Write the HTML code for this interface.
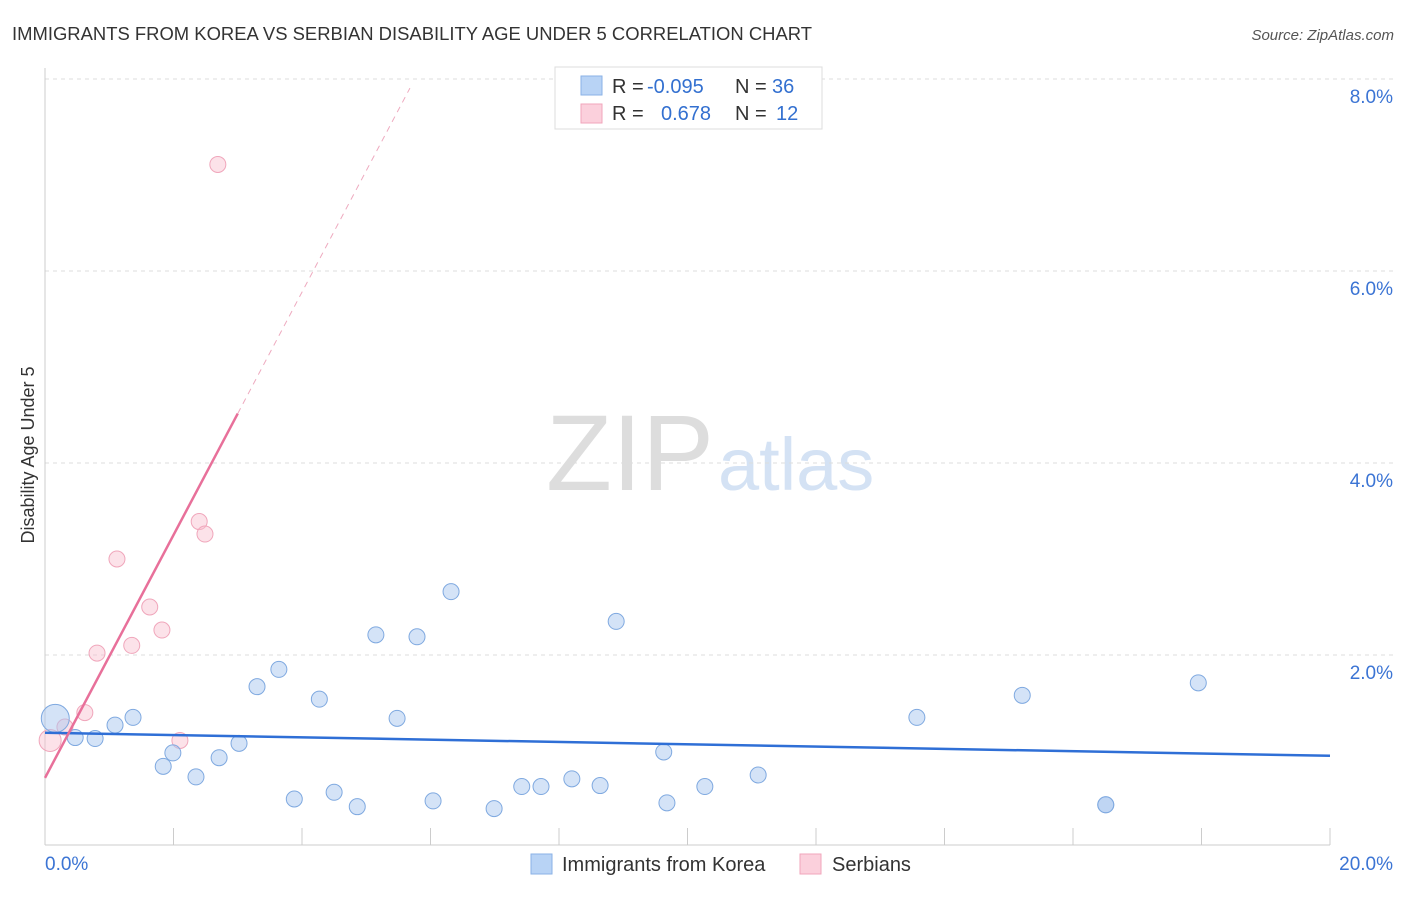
<!DOCTYPE html>
<html><head><meta charset="utf-8"><style>
body{margin:0;background:#fff;font-family:"Liberation Sans",sans-serif;}
svg text{font-family:"Liberation Sans",sans-serif;}
</style></head><body>
<svg id="c" width="1406" height="892" xmlns="http://www.w3.org/2000/svg">
<text x="12" y="40" font-size="18" fill="#333" textLength="800" lengthAdjust="spacingAndGlyphs">IMMIGRANTS FROM KOREA VS SERBIAN DISABILITY AGE UNDER 5 CORRELATION CHART</text>
<text x="1394" y="40" font-size="15" fill="#555" text-anchor="end" font-style="italic">Source: ZipAtlas.com</text>
<text x="714" y="490" font-size="108" fill="#ddd" text-anchor="end" font-family="Liberation Serif">ZIP</text>
<text x="718" y="490" font-size="74" fill="#d4e2f4">atlas</text>
<text x="34" y="455" font-size="18" fill="#333" text-anchor="middle" transform="rotate(-90 34 455)">Disability Age Under 5</text>
<g id="grid"></g><g id="marks"></g>
<g>
<rect x="555" y="67" width="267" height="62" fill="#fff" stroke="#ddd"/>
<rect x="581" y="76" width="21" height="19" fill="#b8d3f5" stroke="#8ab2e6"/>
<rect x="581" y="104" width="21" height="19" fill="#fbd0dc" stroke="#f0a6bb"/>
<text x="612" y="93" font-size="20" fill="#333">R = </text><text x="647" y="93" font-size="20" fill="#3370d0">-0.095</text>
<text x="735" y="93" font-size="20" fill="#333">N = </text><text x="772" y="93" font-size="20" fill="#3370d0">36</text>
<text x="612" y="120" font-size="20" fill="#333">R = </text><text x="661" y="120" font-size="20" fill="#3370d0">0.678</text>
<text x="735" y="120" font-size="20" fill="#333">N = </text><text x="776" y="120" font-size="20" fill="#3370d0">12</text>
</g>
<g>
<rect x="531" y="854" width="21" height="20" fill="#b8d3f5" stroke="#8ab2e6"/>
<text x="562" y="871" font-size="20" fill="#333">Immigrants from Korea</text>
<rect x="800" y="854" width="21" height="20" fill="#fbd0dc" stroke="#f0a6bb"/>
<text x="832" y="871" font-size="20" fill="#333">Serbians</text>
</g>
</svg>
<script>
const xTicks=[0,20];
const yTicks=[2,4,6,8];
const koreaX=[0.16,0.47,0.78,1.09,1.37,1.84,1.99,2.35,2.71,3.02,3.30,3.64,3.88,4.27,4.50,4.86,5.15,5.48,5.79,6.04,6.32,6.99,7.42,7.72,8.20,8.64,8.89,9.63,9.68,10.27,11.10,13.57,15.21,16.51,16.51,17.95];
const koreaY=[1.34,1.14,1.13,1.27,1.35,0.84,0.98,0.73,0.93,1.08,1.67,1.85,0.50,1.54,0.57,0.42,2.21,1.34,2.19,0.48,2.66,0.40,0.63,0.63,0.71,0.64,2.35,0.99,0.46,0.63,0.75,1.35,1.58,0.44,0.44,1.71];
const serbX=[0.08,0.31,0.62,0.81,1.12,1.35,1.63,1.82,2.10,2.40,2.49,2.69];
const serbY=[1.11,1.25,1.40,2.02,3.00,2.10,2.50,2.26,1.11,3.39,3.26,7.11];
const koreaTrend=[1.19,0.95];
const serbTrend=[0.72,1.265];
const X=v=>45+v/20*1285, Y=v=>847-v*96;
const NS="http://www.w3.org/2000/svg";
function mk(t,a,p){const e=document.createElementNS(NS,t);for(const k in a)e.setAttribute(k,a[k]);p.appendChild(e);return e;}
const g=document.getElementById('grid'), m=document.getElementById('marks');
yTicks.forEach(v=>{
 const l=mk('line',{x1:45,x2:1394,y1:Y(v),y2:Y(v),stroke:'#ddd','stroke-dasharray':'4 4'},g);
 
 
 const t=mk('text',{x:1393,y:Y(v)+24,'font-size':19,fill:'#3b74d4','text-anchor':'end'},g);
 t.textContent=v.toFixed(1)+'%';
 
 
});
mk('line',{x1:45,x2:45,y1:68,y2:845,stroke:'#ccc'},g);
mk('line',{x1:45,x2:1330,y1:845,y2:845,stroke:'#ccc'},g);
for(let i=0;i<=10;i++){const tk=mk('line',{x1:X(i*2),x2:X(i*2),y1:828,y2:845,stroke:'#ccc'},g);
 
 }
xTicks.forEach((v,i)=>{const t=mk('text',{x:i?1393:45,y:870,'font-size':19,fill:'#3b74d4','text-anchor':i?'end':'start'},g);
 t.textContent=v.toFixed(1)+'%';
 
 });
serbX.forEach((x,i)=>{const c=mk('circle',{cx:X(x),cy:Y(serbY[i]),r:i==0?11:8,fill:'rgba(249,190,207,0.45)',stroke:'#f0a6bb'},m);
 
 });
koreaX.forEach((x,i)=>{const c=mk('circle',{cx:X(x),cy:Y(koreaY[i]),r:i==0?14:8,fill:'rgba(170,200,240,0.5)',stroke:'#7fa9e0'},m);
 
 });
const kl=mk('line',{x1:X(0),y1:Y(koreaTrend[0]),x2:X(20),y2:Y(koreaTrend[1]),stroke:'#2f6fd6','stroke-width':2.5},m);


const sf=x=>serbTrend[0]+serbTrend[1]*x;
const sl=mk('line',{x1:X(0),y1:Y(sf(0)),x2:X(3.0),y2:Y(sf(3.0)),stroke:'#e8709a','stroke-width':2.5},m);


const sd=mk('line',{x1:X(3.0),y1:Y(sf(3.0)),x2:X(5.68),y2:Y(sf(5.68)),stroke:'#eeaabf','stroke-width':1,'stroke-dasharray':'6 5'},m);


</script>
</body></html>
